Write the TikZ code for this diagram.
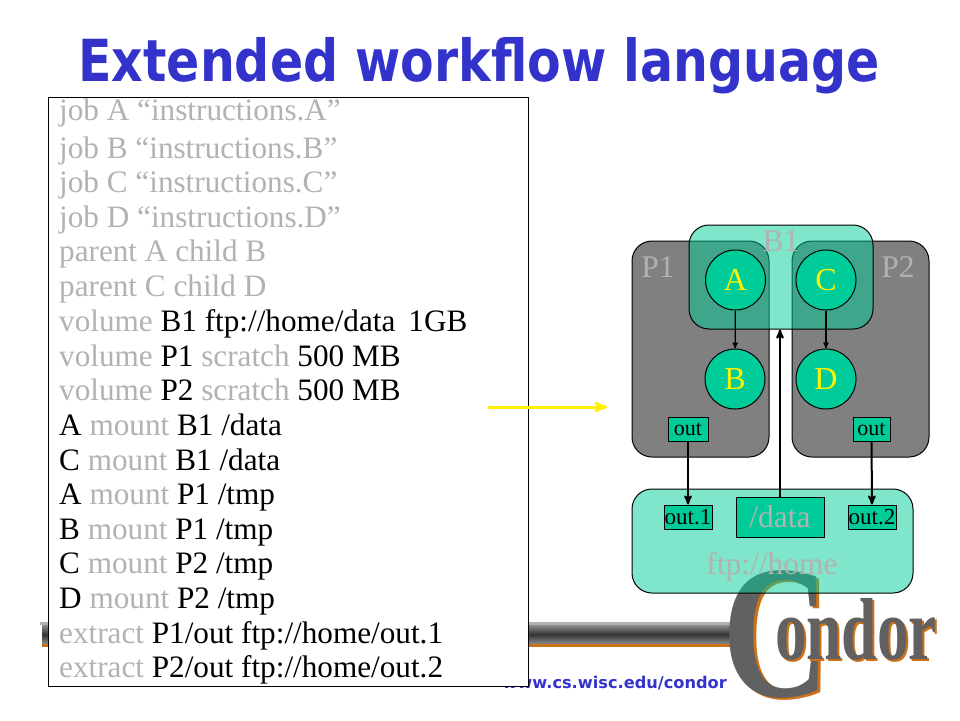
\documentclass[tikz,border=0pt]{standalone}
\usepackage{fontspec}
\setmainfont{Liberation Serif}
\newfontfamily\titlefont{DejaVu Sans}
\usetikzlibrary{arrows,positioning,calc}
\definecolor{slideblue}{RGB}{51,51,204}
\definecolor{paleword}{RGB}{178,178,178}
\definecolor{jobteal}{RGB}{0,204,153}
\definecolor{diskgray}{RGB}{128,128,128}
\definecolor{logoorange}{RGB}{204,112,26}
\newcommand{\pale}[1]{\textcolor{paleword}{#1}}
\tikzset{x=1pt,y=-1pt,
        scriptline/.style={ % One line of the listing
            anchor=base west,
            inner sep=0pt,
            font=\fontsize{31.2}{31}\selectfont},
        scratch/.style={ % The two gray volumes
            draw,
            line width=1pt,
            fill=diskgray,
            rounded corners=20pt,
            minimum width=137pt,
            minimum height=216pt},
        shared/.style={ % Translucent volumes
            draw,
            line width=1pt,
            fill=jobteal,
            fill opacity=0.5,
            text opacity=1,
            rounded corners=20pt},
        job/.style={ % Sets the properties for each job
            circle,
            draw,
            line width=1pt,
            fill=jobteal,
            inner sep=0pt,
            minimum size=60pt,
            text=yellow,
            font=\fontsize{32}{32}\selectfont},
        filebox/.style={ % Small file labels
            draw,
            line width=1pt,
            fill=jobteal,
            inner sep=0pt},
        palelabel/.style={
            text=paleword,
            inner sep=0pt,
            font=\fontsize{31.5}{32}\selectfont},
        flow/.style={
            draw,
            ->,>=stealth',
            line width=2pt},
        logoface/.style={
            inner sep=0pt,
            text=black!62,
            font=\bfseries}
        }
\begin{document}
\begin{tikzpicture}
    \useasboundingbox (0,0) rectangle (960,720);
    \fill[white] (0,0) rectangle (960,720);

    % title and footer
    \node[text=slideblue, inner sep=0pt, anchor=base, xscale=.845, transform shape, font=\titlefont\bfseries\fontsize{58}{58}\selectfont] (title) at (479,81) {Extended workflow language};
    \node[text=slideblue, inner sep=0pt, anchor=base east, font=\titlefont\bfseries\fontsize{16.2}{17}\selectfont] (url) at (727,688) {www.cs.wisc.edu/condor};

    % logo
    \fill[paleword] (40,622) rectangle (735,625);
    \shade[top color=black!45, bottom color=black!45, middle color=black!80] (42,625) rectangle (735,644);
    \fill[logoorange] (42,644) rectangle (735,647);
    \node[logoface, text=logoorange, xscale=.78, transform shape, anchor=base, font=\bfseries\fontsize{190}{190}\selectfont] (logoCb) at (779,698) {C};
    \node[logoface, xscale=.78, transform shape, anchor=base, font=\bfseries\fontsize{190}{190}\selectfont] (logoC) at (776,696) {C};
    \node[logoface, text=logoorange, xscale=.72, transform shape, anchor=base, font=\bfseries\fontsize{88}{88}\selectfont] (logoRb) at (858,661) {ondor};
    \node[logoface, xscale=.72, transform shape, anchor=base, font=\bfseries\fontsize{88}{88}\selectfont] (logoR) at (856,659) {ondor};

    % listing
    \node[draw, line width=1pt, fill=white, inner sep=0pt, minimum width=480pt, minimum height=589pt] (listing) at (288,391.5) {};
    \node[scriptline] (l1) at (59,120) {\pale{job A “instructions.A”}};
    \node[scriptline] (l2) at (59,158) {\pale{job B “instructions.B”}};
    \node[scriptline] (l3) at (59,192) {\pale{job C “instructions.C”}};
    \node[scriptline] (l4) at (59,227) {\pale{job D “instructions.D”}};
    \node[scriptline] (l5) at (59,261) {\pale{parent A child B}};
    \node[scriptline] (l6) at (59,296) {\pale{parent C child D}};
    \node[scriptline] (l7) at (59,331) {\pale{volume} B1 ftp://home/data\, 1GB};
    \node[scriptline] (l8) at (59,366) {\pale{volume} P1 \pale{scratch} 500 MB};
    \node[scriptline] (l9) at (59,400) {\pale{volume} P2 \pale{scratch} 500 MB};
    \node[scriptline] (l10) at (59,435) {A \pale{mount} B1 /data};
    \node[scriptline] (l11) at (59,470) {C \pale{mount} B1 /data};
    \node[scriptline] (l12) at (59,504) {A \pale{mount} P1 /tmp};
    \node[scriptline] (l13) at (59,539) {B \pale{mount} P1 /tmp};
    \node[scriptline] (l14) at (59,573) {C \pale{mount} P2 /tmp};
    \node[scriptline] (l15) at (59,608) {D \pale{mount} P2 /tmp};
    \node[scriptline] (l16) at (59,643) {\pale{extract} P1/out ftp://home/out.1};
    \node[scriptline] (l17) at (59,677) {\pale{extract} P2/out ftp://home/out.2};

    % volumes
    \node[scratch] (P1) at (700.5,349) {};
    \node[scratch] (P2) at (860.5,349) {};
    \node[palelabel] (P1label) at (658,267) {P1};
    \node[palelabel] (P2label) at (898,267) {P2};
    \node[shared, minimum width=184pt, minimum height=104pt] (B1) at (781,277) {};
    \node[palelabel] (B1label) at (781,241) {B1};
    \node[shared, minimum width=281pt, minimum height=104pt] (ftp) at (772.5,541) {};
    \node[palelabel] (ftplabel) at (772,567) {ftp://home};

    % jobs
    \node[job] (A) at (735.5,280) {A};
    \node[job] (C) at (826,280) {C};
    \node[job] (B) at (735,379) {B};
    \node[job] (D) at (826,379) {D};

    % files
    \node[filebox, minimum width=40pt, minimum height=24pt, font=\fontsize{22}{22}\selectfont] (out1) at (688,429) {out};
    \node[filebox, minimum width=37pt, minimum height=24pt, font=\fontsize{22}{22}\selectfont] (out2) at (871.5,429) {out};
    \node[filebox, minimum width=48pt, minimum height=24pt, font=\fontsize{23}{23}\selectfont] (file1) at (688,517) {out.1};
    \node[filebox, minimum width=48pt, minimum height=24pt, font=\fontsize{23}{23}\selectfont] (file2) at (872,517) {out.2};
    \node[filebox, minimum width=88pt, minimum height=40pt, text=paleword, font=\fontsize{31.5}{32}\selectfont] (data) at (780,517) {/data};

    % edges
    \draw[->,>=stealth',line width=1.2pt] (A) -- (B);
    \draw[->,>=stealth',line width=1.2pt] (C) -- (D);
    \draw[flow] (out1) -- (file1);
    \draw[flow] (out2) -- (file2);
    \draw[flow] (data.north) -- (data.north |- B1.south);

    % yellow pointer
    \coordinate (pstart) at (488,407);
    \coordinate (pend) at (607,407);
    \draw[->,>=stealth',yellow,line width=3pt] (pstart) -- (pend);
\end{tikzpicture}
\end{document}
